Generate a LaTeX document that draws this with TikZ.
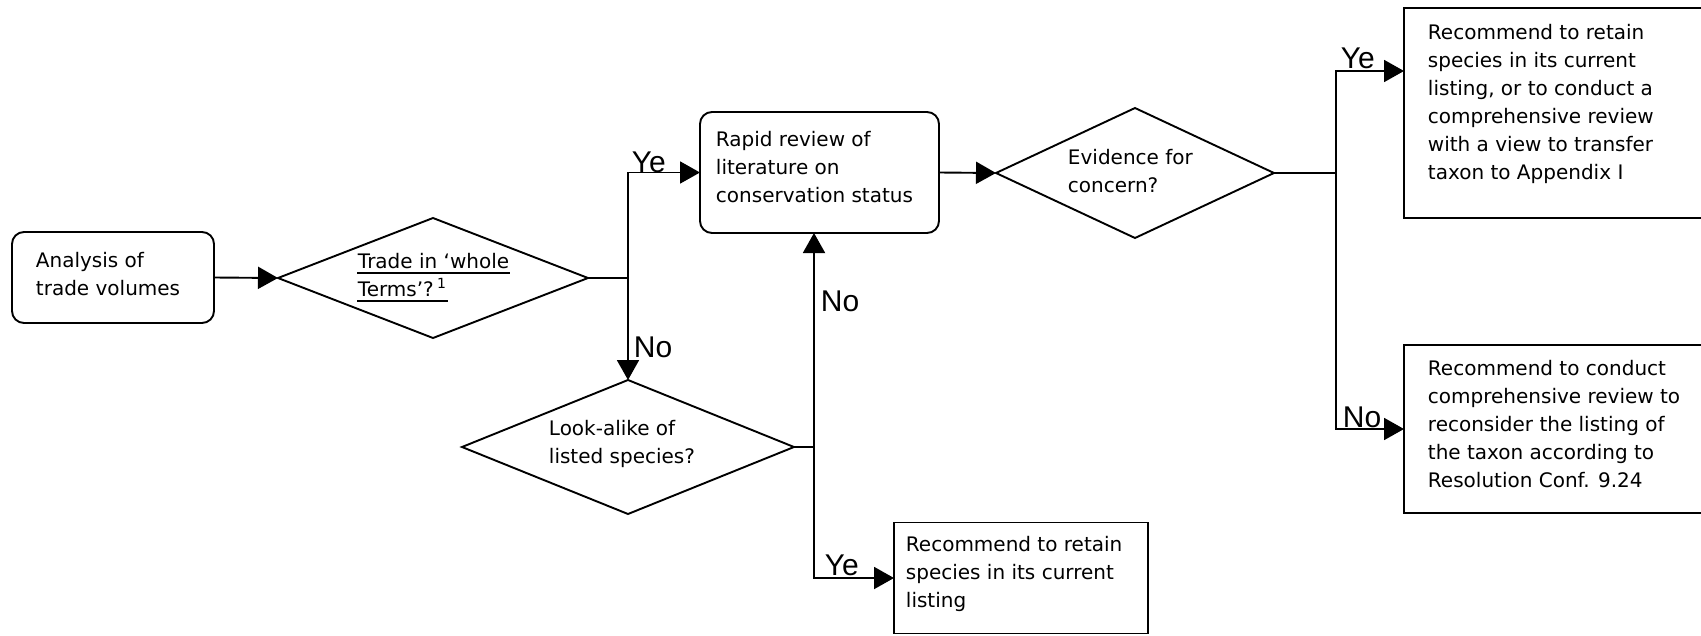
\documentclass[tikz,border=0pt]{standalone}
\usepackage{fontspec}
\setmainfont{DejaVu Sans}
\newfontfamily\lblfont{Liberation Sans}
\usetikzlibrary{shapes.geometric,arrows.meta}
\begin{document}
\begin{tikzpicture}[x=1pt,y=-1pt,line width=1.9pt,
  rbox/.style={draw,rectangle,rounded corners=12pt,inner sep=0pt,outer sep=0pt},
  sbox/.style={draw,rectangle,inner sep=0pt,outer sep=0pt},
  dia/.style={draw,diamond,inner sep=0pt,outer sep=0pt},
  txt/.style={anchor=north west,inner sep=0pt,align=left,font=\fontsize{20}{28}\selectfont},
  utxt/.style={anchor=base west,inner sep=0pt,font=\fontsize{20}{28}\selectfont},
  lbl/.style={anchor=base west,inner sep=0pt,font=\lblfont\fontsize{30}{36}\selectfont},
  arr/.style={-{Triangle[length=20pt,width=22pt]}}]
\useasboundingbox (0,0) rectangle (1701,635);
% shapes
\node[rbox,minimum width=202pt,minimum height=91pt] (A) at (113,277.5) {};
\node[dia,minimum width=310pt,minimum height=120pt] (D1) at (433,278) {};
\node[rbox,minimum width=239pt,minimum height=121pt] (R) at (819.5,172.5) {};
\node[dia,minimum width=332pt,minimum height=134pt] (D2) at (628,447) {};
\node[sbox,minimum width=254pt,minimum height=111pt] (B) at (1021,578) {};
\node[dia,minimum width=278pt,minimum height=130pt] (E) at (1135,173) {};
\node[sbox,minimum width=330pt,minimum height=210pt] (TR) at (1569,113) {};
\node[sbox,minimum width=330pt,minimum height=168pt] (BR) at (1569,429) {};
% texts
\node[txt] (At) at (35,251) {Analysis of\\trade volumes};
\node[utxt] (D1a) at (357,268) {Trade in ‘whole};
\node[utxt] (D1b) at (357,296) {Terms’?\,\textsuperscript{1}};
\draw[line width=1.8pt] ([yshift=-5pt]D1a.base west) -- ([yshift=-5pt]D1a.base east);
\draw[line width=1.8pt] ([yshift=-5pt]D1b.base west) -- ([yshift=-5pt]D1b.base east);
\node[txt] (Rt) at (715,130) {Rapid review of\\literature on\\conservation status};
\node[txt] (Et) at (1067,148) {Evidence for\\concern?};
\node[txt] (D2t) at (548,419) {Look-alike of\\listed species?};
\node[txt] (Bt) at (905,535) {Recommend to retain\\species in its current\\listing};
\node[txt] (TRt) at (1427,23) {Recommend to retain\\species in its current\\listing, or to conduct a\\comprehensive review\\with a view to transfer\\taxon to Appendix I};
\node[txt] (BRt) at (1427,359) {Recommend to conduct\\comprehensive review to\\reconsider the listing of\\the taxon according to\\Resolution Conf. 9.24};
% junctions
\coordinate (J1) at (628,278);
\coordinate (J2) at (814,447);
\coordinate (J3) at (1336,173);
\coordinate (T1) at (1336,71);
\coordinate (T2) at (1336,429);
% connectors
\draw[arr] (A.east) -- (D1.west);
\draw (D1.east) -- (J1);
\draw[arr] (J1) |- (R.west);
\draw[arr] (J1) -- (D2.north);
\draw (D2.east) -- (J2);
\draw[arr] (J2) -- (J2 |- R.south);
\draw[arr] (J2) |- (B.west);
\draw[arr] (R.east) -- (E.west);
\draw (E.east) -- (J3);
\draw[arr] (J3) -- (T1) -- (T1 -| TR.west);
\draw[arr] (J3) -- (T2) -- (T2 -| BR.west);
% labels
\node[lbl] (L1) at (631,172) {Ye};
\node[lbl] (L2) at (633,357) {No};
\node[lbl] (L3) at (820,311) {No};
\node[lbl] (L4) at (824,575) {Ye};
\node[lbl] (L5) at (1340,68) {Ye};
\node[lbl] (L6) at (1342,427) {No};
\end{tikzpicture}
\end{document}
